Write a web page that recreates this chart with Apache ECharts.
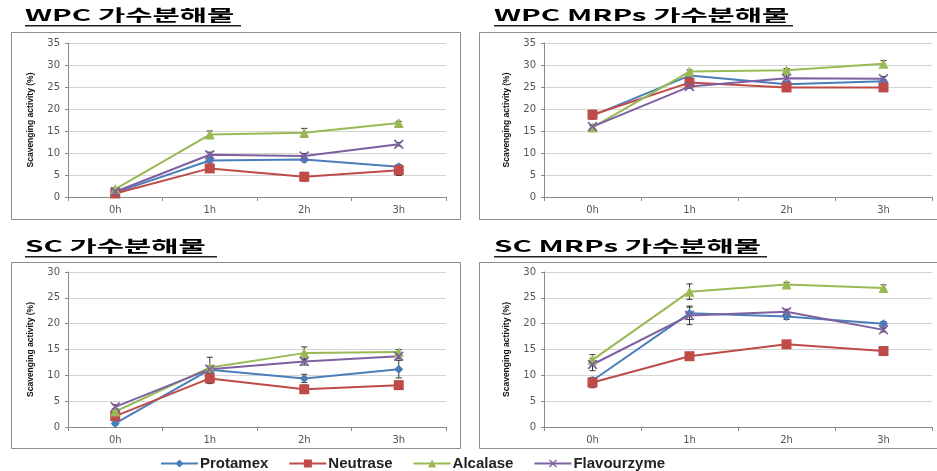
<!DOCTYPE html>
<html><head><meta charset="utf-8">
<script src="https://cdn.jsdelivr.net/npm/echarts/dist/echarts.min.js"></script>
<style>html,body{margin:0;padding:0;background:#fff}#c{width:937px;height:471px}</style>
</head><body><div id="c"></div><script>
// ---- data ----
const hours = ['0h', '1h', '2h', '3h'];
const enzymes = ['Protamex', 'Neutrase', 'Alcalase', 'Flavourzyme'];
const panelTitles = ['WPC 가수분해물', 'WPC MRPs 가수분해물', 'SC 가수분해물', 'SC MRPs 가수분해물'];
const yMax = [35, 35, 30, 30];

// WPC hydrolysates
const wpcProtamex = [1.0, 8.3, 8.5, 6.9];
const wpcNeutrase = [0.8, 6.5, 4.6, 6.1];
const wpcAlcalase = [1.8, 14.2, 14.6, 16.8];
const wpcFlavourzyme = [1.2, 9.6, 9.3, 12.0];
const wpcProtamexErr = [0.3, 0.5, 0.5, 0.4];
const wpcNeutraseErr = [0.3, 0.4, 1.0, 1.2];
const wpcAlcalaseErr = [0.3, 0.8, 1.0, 0.4];
const wpcFlavourzymeErr = [0.3, 0.6, 0.6, 0.4];

// WPC MRPs hydrolysates
const wpcMrpProtamex = [18.5, 27.6, 25.6, 26.3];
const wpcMrpNeutrase = [18.7, 26.0, 24.9, 24.9];
const wpcMrpAlcalase = [15.8, 28.5, 28.8, 30.3];
const wpcMrpFlavourzyme = [16.0, 25.1, 27.0, 26.9];
const wpcMrpProtamexErr = [0.4, 0.5, 0.4, 0.4];
const wpcMrpNeutraseErr = [1.0, 0.4, 0.4, 0.4];
const wpcMrpAlcalaseErr = [0.4, 0.4, 0.4, 0.7];
const wpcMrpFlavourzymeErr = [0.4, 0.4, 0.8, 0.5];

// SC hydrolysates
const scProtamex = [0.7, 11.1, 9.4, 11.2];
const scNeutrase = [2.1, 9.4, 7.3, 8.1];
const scAlcalase = [3.0, 11.5, 14.3, 14.5];
const scFlavourzyme = [3.9, 11.2, 12.7, 13.7];
const scProtamexErr = [0.3, 0.6, 0.8, 1.7];
const scNeutraseErr = [0.4, 1.0, 0.8, 0.4];
const scAlcalaseErr = [0.4, 2.0, 1.2, 0.5];
const scFlavourzymeErr = [0.4, 0.6, 0.7, 0.5];

// SC MRPs hydrolysates
const scMrpProtamex = [9.0, 22.0, 21.4, 20.0];
const scMrpNeutrase = [8.6, 13.7, 16.0, 14.7];
const scMrpAlcalase = [13.0, 26.2, 27.6, 26.9];
const scMrpFlavourzyme = [12.1, 21.6, 22.3, 18.8];
const scMrpProtamexErr = [0.5, 1.2, 0.6, 0.4];
const scMrpNeutraseErr = [1.0, 0.4, 0.4, 0.4];
const scMrpAlcalaseErr = [1.0, 1.5, 0.4, 0.6];
const scMrpFlavourzymeErr = [1.2, 1.8, 0.5, 0.4];

const panelValues = [
  [wpcProtamex, wpcNeutrase, wpcAlcalase, wpcFlavourzyme],
  [wpcMrpProtamex, wpcMrpNeutrase, wpcMrpAlcalase, wpcMrpFlavourzyme],
  [scProtamex, scNeutrase, scAlcalase, scFlavourzyme],
  [scMrpProtamex, scMrpNeutrase, scMrpAlcalase, scMrpFlavourzyme]
];
const panelErrors = [
  [wpcProtamexErr, wpcNeutraseErr, wpcAlcalaseErr, wpcFlavourzymeErr],
  [wpcMrpProtamexErr, wpcMrpNeutraseErr, wpcMrpAlcalaseErr, wpcMrpFlavourzymeErr],
  [scProtamexErr, scNeutraseErr, scAlcalaseErr, scFlavourzymeErr],
  [scMrpProtamexErr, scMrpNeutraseErr, scMrpAlcalaseErr, scMrpFlavourzymeErr]
];

// ---- styles ----
const colors = ['#4A7EBB', '#BE4B48', '#98B954', '#7D60A0'];
const xPath = 'path://M0,1.2L1.2,0L5,3.8L8.8,0L10,1.2L6.2,5L10,8.8L8.8,10L5,6.2L1.2,10L0,8.8L3.8,5Z';
const symbols = ['diamond', 'rect', 'triangle', xPath];
const symbolSizes = [9, 10, 10, 10];

const grids = [
  {left: 68, top: 43, width: 378, height: 154},
  {left: 544, top: 43, width: 388, height: 154},
  {left: 68, top: 272, width: 378, height: 155},
  {left: 544, top: 272, width: 388, height: 155}
];
const boxes = [
  {x: 11, y: 32, w: 449, h: 187},
  {x: 479, y: 32, w: 460, h: 187},
  {x: 11, y: 262, w: 449, h: 186},
  {x: 479, y: 262, w: 460, h: 186}
];
const titlePos = [
  {x: 25, y: 7, ul: 216},
  {x: 494, y: 7, ul: 299},
  {x: 25, y: 238, ul: 192},
  {x: 494, y: 238, ul: 273}
];

function errRender(params, api) {
  const x = api.value(0), lo = api.value(1), hi = api.value(2);
  const p1 = api.coord([x, hi]), p2 = api.coord([x, lo]);
  const w = 3;
  const st = {stroke: '#333', lineWidth: 1};
  return {type: 'group', children: [
    {type: 'line', shape: {x1: p1[0], y1: p1[1], x2: p2[0], y2: p2[1]}, style: st},
    {type: 'line', shape: {x1: p1[0] - w, y1: p1[1], x2: p1[0] + w, y2: p1[1]}, style: st},
    {type: 'line', shape: {x1: p2[0] - w, y1: p2[1], x2: p2[0] + w, y2: p2[1]}, style: st}
  ]};
}

const xAxes = [], yAxes = [], series = [], graphics = [];
grids.forEach((g, i) => {
  xAxes.push({
    type: 'category', gridIndex: i, data: hours, boundaryGap: true,
    axisLine: {lineStyle: {color: '#8a8a8a', width: 1}},
    axisTick: {show: true, length: 4, lineStyle: {color: '#8a8a8a'}},
    axisLabel: {color: '#555', fontSize: 10, margin: 8, fontFamily: 'DejaVu Sans'}
  });
  yAxes.push({
    type: 'value', gridIndex: i, min: 0, max: yMax[i], interval: 5,
    name: 'Scavenging activity (%)', nameLocation: 'middle', nameGap: 33,
    nameTextStyle: {color: '#111', fontSize: 8.5, fontWeight: 'bold', fontFamily: 'Liberation Sans Narrow, Liberation Sans, sans-serif'},
    axisLine: {show: true, lineStyle: {color: '#8a8a8a', width: 1}},
    axisTick: {show: true, length: 3, lineStyle: {color: '#8a8a8a'}},
    axisLabel: {color: '#555', fontSize: 10, margin: 8, fontFamily: 'DejaVu Sans'},
    splitLine: {show: true, lineStyle: {color: '#d4d4d4', width: 1}}
  });
  enzymes.forEach((name, k) => {
    const vals = panelValues[i][k], errs = panelErrors[i][k];
    series.push({
      type: 'custom', name: name + '-err', xAxisIndex: i, yAxisIndex: i, z: 1,
      renderItem: errRender, silent: true,
      data: vals.map((v, j) => [j, v - errs[j], v + errs[j]])
    });
    series.push({
      type: 'line', name: name, xAxisIndex: i, yAxisIndex: i, z: 3,
      data: vals, symbol: symbols[k], symbolSize: symbolSizes[k],
      lineStyle: {color: colors[k], width: 2}, itemStyle: {color: colors[k]},
      emphasis: {disabled: true}
    });
  });
  const b = boxes[i];
  graphics.push({type: 'rect', shape: {x: b.x + 0.5, y: b.y + 0.5, width: b.w, height: b.h},
    style: {fill: 'none', stroke: '#8c8c8c', lineWidth: 1}, z: 0});
  const t = titlePos[i];
  graphics.push({type: 'text', x: t.x, y: t.y, scaleX: 1.85, scaleY: 1, originX: 0, originY: 0,
    style: {text: panelTitles[i], fill: '#000', font: 'bold 16px "Noto Sans CJK KR", sans-serif'}});
  graphics.push({type: 'rect', shape: {x: t.x, y: t.y + 18, width: t.ul, height: 1.5}, style: {fill: '#222'}});
});

const chart = echarts.init(document.getElementById('c'), null, {renderer: 'canvas'});
chart.setOption({
  backgroundColor: '#fff',
  animation: false,
  grid: grids,
  xAxis: xAxes,
  yAxis: yAxes,
  legend: {
    data: enzymes, left: 155, top: 451, itemWidth: 37, itemHeight: 10, itemGap: 20,
    textStyle: {color: '#222', fontSize: 15, fontWeight: 'bold', fontFamily: 'Liberation Sans, Arial, sans-serif', padding: [0, 0, 0, -3]}
  },
  graphic: graphics,
  series: series
});
</script></body></html>
